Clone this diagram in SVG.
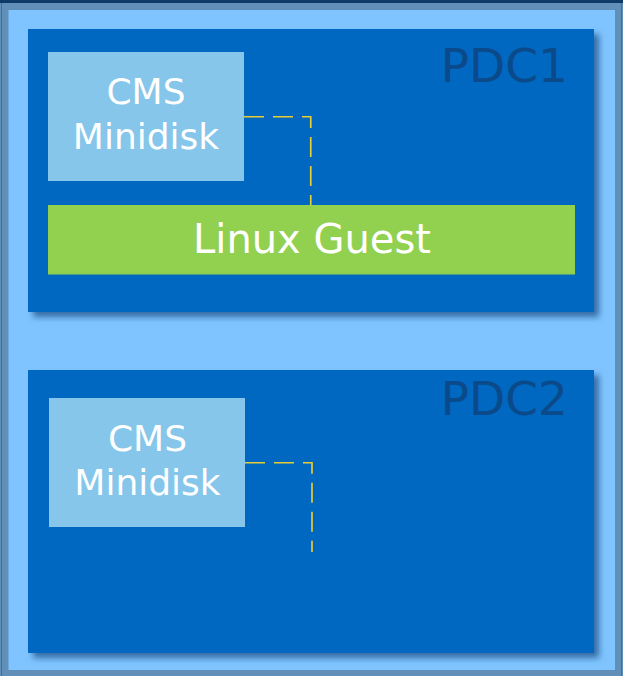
<svg xmlns="http://www.w3.org/2000/svg" width="623" height="676" viewBox="0 0 623 676">
  <defs>
    <filter id="shadow" x="-5%" y="-5%" width="115%" height="115%">
      <feDropShadow dx="5" dy="5" stdDeviation="3" flood-color="#1b4f86" flood-opacity="0.75"/>
    </filter>
    <style>
      .pdc { fill: #0068c0; filter: url(#shadow); }
      .pdclabel { font-family: "DejaVu Sans", sans-serif; font-size: 47px; fill: #0b4a8a; text-anchor: end; }
      .cms { fill: #85c6ea; }
      .guest { fill: #92d050; }
      .lbl { font-family: "DejaVu Sans", sans-serif; fill: #ffffff; text-anchor: middle; }
      .conn { fill: none; stroke: #e8cc34; stroke-width: 1.7; stroke-dasharray: 20 9; }
    </style>
  </defs>

  <!-- outer frame -->
  <g id="frame">
    <rect x="0" y="0" width="623" height="676" fill="#6090b8"/>
    <rect x="0" y="0" width="623" height="3" fill="#0d3a68"/>
    <rect x="1" y="3" width="1" height="673" fill="#3f6f9f"/>
    <rect x="621" y="3" width="1" height="673" fill="#3f6f9f"/>
    <rect x="8.5" y="10" width="606.5" height="660" fill="#80c4ff"/>
  </g>

  <g id="pdc1">
    <rect class="pdc" x="28" y="29" width="566" height="283"/>
    <text class="pdclabel" x="568" y="82">PDC1</text>
  </g>

  <g id="pdc2">
    <rect class="pdc" x="28" y="370" width="566" height="283"/>
    <text class="pdclabel" x="568" y="415">PDC2</text>
  </g>

  <g id="cms1">
    <rect class="cms" x="48" y="52" width="196" height="129"/>
    <text class="lbl" x="146" y="104" font-size="36">CMS</text>
    <text class="lbl" x="146" y="149" font-size="36">Minidisk</text>
  </g>

  <g id="linux-guest">
    <rect class="guest" x="48" y="205" width="527" height="69.5"/>
    <text class="lbl" x="312" y="252.5" font-size="40">Linux Guest</text>
  </g>

  <g id="cms2">
    <rect class="cms" x="49" y="398" width="196" height="129"/>
    <text class="lbl" x="147.5" y="451" font-size="36">CMS</text>
    <text class="lbl" x="147.5" y="495" font-size="36">Minidisk</text>
  </g>

  <g id="connectors">
    <path class="conn" d="M244,116.75 H310.75 V205"/>
    <path class="conn" d="M245,462.75 H312 V552"/>
  </g>
</svg>
